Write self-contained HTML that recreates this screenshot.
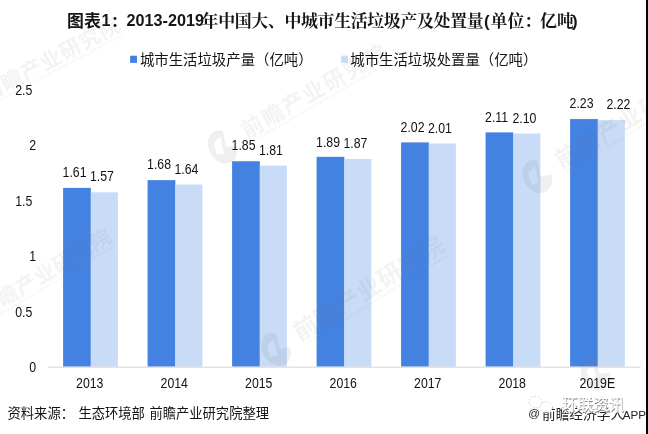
<!DOCTYPE html>
<html lang="zh"><head><meta charset="utf-8"><title>图表1：2013-2019年中国大、中城市生活垃圾产及处置量(单位：亿吨)</title>
<style>
html,body{margin:0;padding:0;background:#fff;}
body{width:648px;height:434px;overflow:hidden;font-family:"Liberation Sans",sans-serif;}
svg{display:block;will-change:transform;}
text{font-family:"Liberation Sans","Noto Sans CJK SC",sans-serif;}
</style></head><body>
<svg width="648" height="434" viewBox="0 0 648 434">
<rect width="648" height="434" fill="#fff"/>
<g id="bars">
<rect x="63.10" y="187.89" width="27.75" height="178.71" fill="#4482e1"/>
<rect x="90.85" y="192.33" width="27.0" height="174.27" fill="#c8dbf7"/>
<rect x="147.60" y="180.12" width="27.75" height="186.48" fill="#4482e1"/>
<rect x="175.35" y="184.56" width="27.0" height="182.04" fill="#c8dbf7"/>
<rect x="232.10" y="161.25" width="27.75" height="205.35" fill="#4482e1"/>
<rect x="259.85" y="165.69" width="27.0" height="200.91" fill="#c8dbf7"/>
<rect x="316.60" y="156.81" width="27.75" height="209.79" fill="#4482e1"/>
<rect x="344.35" y="159.03" width="27.0" height="207.57" fill="#c8dbf7"/>
<rect x="401.10" y="142.38" width="27.75" height="224.22" fill="#4482e1"/>
<rect x="428.85" y="143.49" width="27.0" height="223.11" fill="#c8dbf7"/>
<rect x="485.60" y="132.39" width="27.75" height="234.21" fill="#4482e1"/>
<rect x="513.35" y="133.50" width="27.0" height="233.10" fill="#c8dbf7"/>
<rect x="570.10" y="119.07" width="27.75" height="247.53" fill="#4482e1"/>
<rect x="597.85" y="120.18" width="27.0" height="246.42" fill="#c8dbf7"/>
</g>
<g id="watermark" fill="#7a7a7a" fill-opacity="0.09" stroke="none"><g transform="translate(-8.0,90.0) rotate(-28)"><g transform="translate(-36,3) scale(1.25) translate(36,-3)"><path transform="translate(-36,3)" d="M0,-14A11,14 0 1 0 10.5,4.5L2.5,1.5L6.5,-11A11,14 0 0 0 0,-14Z M-5,-6L2.5,-8L-1.5,5L-7,3Z" fill-rule="evenodd" fill="#7a7a7a" fill-opacity="0.12" stroke="none"/></g><text x="-10.5" y="7.98" font-size="21" font-weight="bold" letter-spacing="1.07">前瞻产业研究院</text><line x1="-8" y1="12.6" x2="141" y2="12.6" stroke="#7a7a7a" stroke-opacity="0.09" stroke-width="2.6" stroke-dasharray="1.2 1.6"/></g><g transform="translate(252.2,126.3) rotate(-30)"><g transform="translate(-36,3) scale(1.25) translate(36,-3)"><path transform="translate(-36,3)" d="M0,-14A11,14 0 1 0 10.5,4.5L2.5,1.5L6.5,-11A11,14 0 0 0 0,-14Z M-5,-6L2.5,-8L-1.5,5L-7,3Z" fill-rule="evenodd" fill="#7a7a7a" fill-opacity="0.12" stroke="none"/></g><text x="-11" y="8.36" font-size="22" font-weight="bold" letter-spacing="1.58">前瞻产业研究院</text><line x1="-8" y1="13.2" x2="150" y2="13.2" stroke="#7a7a7a" stroke-opacity="0.09" stroke-width="2.6" stroke-dasharray="1.2 1.6"/></g><g transform="translate(566.4,155.4) rotate(-31)"><g transform="translate(-36,3) scale(1.25) translate(36,-3)"><path transform="translate(-36,3)" d="M0,-14A11,14 0 1 0 10.5,4.5L2.5,1.5L6.5,-11A11,14 0 0 0 0,-14Z M-5,-6L2.5,-8L-1.5,5L-7,3Z" fill-rule="evenodd" fill="#7a7a7a" fill-opacity="0.12" stroke="none"/></g><text x="-11.5" y="8.74" font-size="23" font-weight="bold" letter-spacing="1.59">前瞻产业研究院</text><line x1="-8" y1="13.8" x2="157" y2="13.8" stroke="#7a7a7a" stroke-opacity="0.09" stroke-width="2.6" stroke-dasharray="1.2 1.6"/></g><g transform="translate(-11.0,306.5) rotate(-31.2)"><g transform="translate(-36,3) scale(1.25) translate(36,-3)"><path transform="translate(-36,3)" d="M0,-14A11,14 0 1 0 10.5,4.5L2.5,1.5L6.5,-11A11,14 0 0 0 0,-14Z M-5,-6L2.5,-8L-1.5,5L-7,3Z" fill-rule="evenodd" fill="#7a7a7a" fill-opacity="0.12" stroke="none"/></g><text x="-10.5" y="7.98" font-size="21" font-weight="bold" letter-spacing="0.58">前瞻产业研究院</text><line x1="-8" y1="12.6" x2="138" y2="12.6" stroke="#7a7a7a" stroke-opacity="0.09" stroke-width="2.6" stroke-dasharray="1.2 1.6"/></g><g transform="translate(305.0,327.5) rotate(-32)"><g transform="translate(-36,3) scale(1.25) translate(36,-3)"><path transform="translate(-36,3)" d="M0,-14A11,14 0 1 0 10.5,4.5L2.5,1.5L6.5,-11A11,14 0 0 0 0,-14Z M-5,-6L2.5,-8L-1.5,5L-7,3Z" fill-rule="evenodd" fill="#7a7a7a" fill-opacity="0.12" stroke="none"/></g><text x="-12" y="9.12" font-size="24" font-weight="bold" letter-spacing="0.89">前瞻产业研究院</text><line x1="-8" y1="14.4" x2="159" y2="14.4" stroke="#7a7a7a" stroke-opacity="0.09" stroke-width="2.6" stroke-dasharray="1.2 1.6"/></g><g transform="translate(625.0,353.0) rotate(-31)"><g transform="translate(-36,3) scale(1.25) translate(36,-3)"><path transform="translate(-36,3)" d="M0,-14A11,14 0 1 0 10.5,4.5L2.5,1.5L6.5,-11A11,14 0 0 0 0,-14Z M-5,-6L2.5,-8L-1.5,5L-7,3Z" fill-rule="evenodd" fill="#7a7a7a" fill-opacity="0.12" stroke="none"/></g><line x1="-8" y1="13.8" x2="-8" y2="13.8" stroke="#7a7a7a" stroke-opacity="0.09" stroke-width="2.6" stroke-dasharray="1.2 1.6"/></g></g>
<rect x="48.1" y="366.7" width="592.2" height="0.9" fill="#cfcfcf"/>
<g id="datalabels" font-size="14" fill="#111">
<text transform="translate(62.57,177.09) scale(0.88,1)">1.61</text>
<text transform="translate(89.95,181.43) scale(0.88,1)">1.57</text>
<text transform="translate(147.07,169.32) scale(0.88,1)">1.68</text>
<text transform="translate(174.45,173.66) scale(0.88,1)">1.64</text>
<text transform="translate(231.57,150.45) scale(0.88,1)">1.85</text>
<text transform="translate(258.95,154.79) scale(0.88,1)">1.81</text>
<text transform="translate(316.08,146.81) scale(0.88,1)">1.89</text>
<text transform="translate(343.45,148.13) scale(0.88,1)">1.87</text>
<text transform="translate(400.58,131.98) scale(0.88,1)">2.02</text>
<text transform="translate(427.95,132.59) scale(0.88,1)">2.01</text>
<text transform="translate(485.08,121.59) scale(0.88,1)">2.11</text>
<text transform="translate(512.45,122.60) scale(0.88,1)">2.10</text>
<text transform="translate(569.58,108.27) scale(0.88,1)">2.23</text>
<text transform="translate(606.45,109.28) scale(0.88,1)">2.22</text>
</g>
<g id="yaxis" font-size="14" fill="#111">
<text transform="translate(29.20,372.00) scale(0.88,1)">0</text>
<text transform="translate(15.20,316.50) scale(0.88,1)">0.5</text>
<text transform="translate(29.20,261.00) scale(0.88,1)">1</text>
<text transform="translate(15.20,205.50) scale(0.88,1)">1.5</text>
<text transform="translate(29.20,150.00) scale(0.88,1)">2</text>
<text transform="translate(15.20,94.50) scale(0.88,1)">2.5</text>
</g>
<g id="xaxis" font-size="14" fill="#111">
<text transform="translate(76.07,387.80) scale(0.88,1)">2013</text>
<text transform="translate(160.57,387.80) scale(0.88,1)">2014</text>
<text transform="translate(245.08,387.80) scale(0.88,1)">2015</text>
<text transform="translate(329.58,387.80) scale(0.88,1)">2016</text>
<text transform="translate(414.08,387.80) scale(0.88,1)">2017</text>
<text transform="translate(498.58,387.80) scale(0.88,1)">2018</text>
<text transform="translate(579.58,387.80) scale(0.88,1)">2019E</text>
</g>
<g id="legend">
<rect x="130.1" y="55.7" width="6.9" height="7.2" fill="#4482e1"/>
<rect x="341.1" y="55.7" width="6.9" height="7.2" fill="#c8dbf7"/>
<text x="139.9" y="64.9" font-size="14.4" fill="#141414">城市生活垃圾产量（亿吨）</text>
<text x="350.3" y="64.9" font-size="14.4" fill="#141414">城市生活垃圾处置量（亿吨）</text>
</g>
<g id="title" fill="#161616" font-weight="bold">
<text x="67.03" y="27" font-size="16.9">图表</text>
<text x="101.6" y="25.8" font-size="16.2">1</text>
<text x="110.4" y="27" font-size="16.9" style="font-family:'Liberation Serif','Noto Serif CJK SC',serif">：</text>
<text x="126.6" y="25.8" font-size="16.2">2013-2019</text>
<text x="201.6" y="27" font-size="16.9" textLength="282" style="font-family:'Liberation Serif','Noto Serif CJK SC',serif">年中国大、中城市生活垃圾产及处置量</text>
<text x="483.96" y="27" font-size="16.9">(</text>
<text x="490.6" y="27" font-size="16.9" style="font-family:'Liberation Serif','Noto Serif CJK SC',serif">单位</text>
<text x="524.3" y="27" font-size="16.9" style="font-family:'Liberation Serif','Noto Serif CJK SC',serif">：</text>
<text x="540.0" y="27" font-size="16.9" style="font-family:'Liberation Serif','Noto Serif CJK SC',serif">亿吨</text>
<text x="571.96" y="27" font-size="16.9">)</text>
</g>
<g id="source">
<text y="418.25" font-size="13.3" fill="#141414"><tspan x="7.5">资料来源：</tspan><tspan x="78.4">生态环境部</tspan><tspan x="149.4">前瞻产业研究院整理</tspan></text>
</g>
<g id="overlay">
<text x="528.2" y="417.2" font-size="11.6" fill="#222">@</text>
<text x="541.97" y="419" font-size="13.7" fill="#222">前瞻经济学人</text>
<text x="622.7" y="419.4" font-size="11.6" fill="#222">APP</text>
<g fill="#fff" stroke="#c9c9c9" stroke-width="0.8" stroke-dasharray="1.6 1.8"><ellipse cx="535.6" cy="401.8" rx="6.6" ry="5.6"/><ellipse cx="546.2" cy="407.2" rx="6.2" ry="5.4"/></g>
<text x="562.22" y="410.2" font-size="15.5" font-weight="500" fill="#fff" stroke="#fff" stroke-width="2.3" stroke-linejoin="round" stroke-opacity="0.85">环联资讯</text>
<text x="562.82" y="410.8" font-size="15.5" font-weight="500" fill="#7d7d7d">环联资讯</text>
<text x="562.22" y="410.2" font-size="15.5" font-weight="500" fill="#fff">环联资讯</text>
</g>
<rect x="646" y="0" width="2" height="434" fill="#000"/>
</svg></body></html>
